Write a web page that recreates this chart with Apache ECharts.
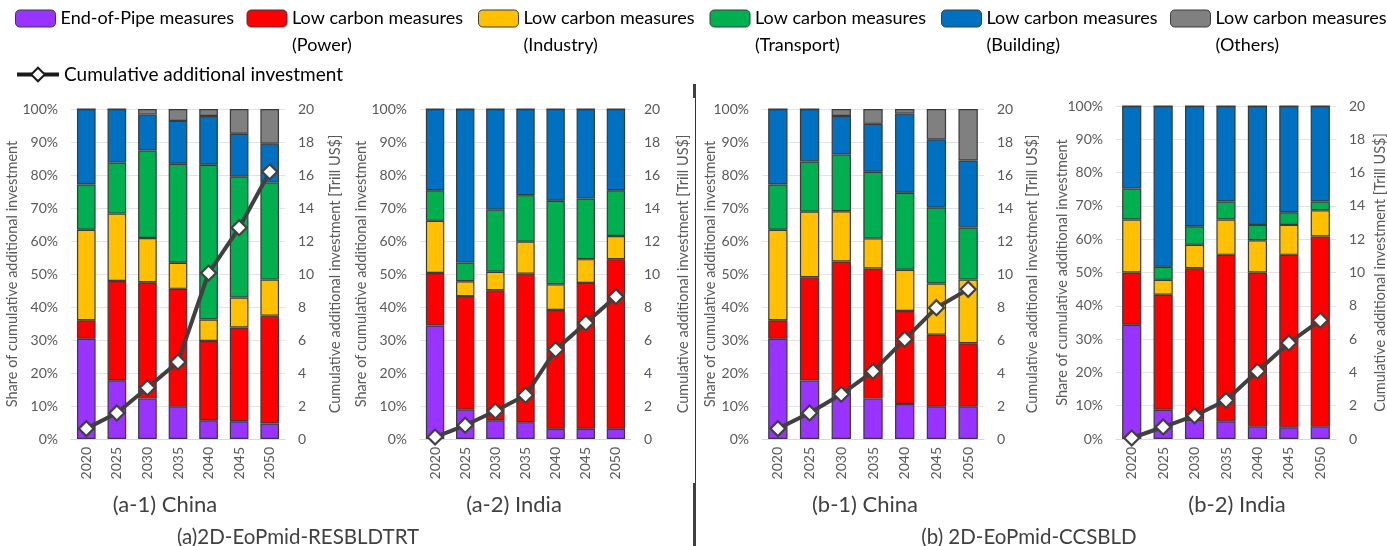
<!DOCTYPE html>
<html><head><meta charset="utf-8">
<script src="https://cdn.jsdelivr.net/npm/echarts@6/dist/echarts.min.js"></script>
<style>html,body{margin:0;padding:0;background:#fff}#c{width:1387px;height:546px}</style>
</head><body><div id="c"></div>
<script>
const years = ['2020','2025','2030','2035','2040','2045','2050'];
const barNames = ['End-of-Pipe measures','Low carbon measures (Power)','Low carbon measures (Industry)','Low carbon measures (Transport)','Low carbon measures (Building)','Low carbon measures (Others)'];
const lineName = 'Cumulative additional investment';
const leftAxisName = 'Share of cumulative additional investment';
const rightAxisName = 'Cumulative additional investment [Trill US$]';
const panelLabels = ['(a-1) China','(a-2) India','(b-1) China','(b-2) India'];
const scenarioLabels = ['(a)2D-EoPmid-RESBLDTRT','(b) 2D-EoPmid-CCSBLD'];

// (a-1) China, shares in %
const a1EoP       = [30.4,17.8,12.3, 9.9, 5.7, 5.4, 4.7];
const a1Power     = [ 5.6,30.1,35.2,35.6,24.0,28.4,32.7];
const a1Industry  = [27.4,20.4,13.4, 7.9, 6.5, 9.1,10.9];
const a1Transport = [13.7,15.5,26.5,30.0,46.9,36.6,29.4];
const a1Building  = [22.9,16.2,10.9,13.0,14.8,13.0,11.8];
const a1Others    = [ 0.0, 0.0, 1.7, 3.6, 2.1, 7.5,10.5];
const a1Cumulative = [0.63,1.58,3.11,4.67,10.06,12.8,16.2];

// (a-2) India
const a2EoP       = [34.4, 8.9, 5.7, 5.1, 3.1, 3.1, 3.1];
const a2Power     = [15.9,34.4,39.4,45.0,36.0,44.2,51.4];
const a2Industry  = [15.8, 4.5, 5.6, 9.7, 7.8, 7.2, 7.0];
const a2Transport = [ 9.3, 5.7,18.8,14.1,25.3,18.4,13.9];
const a2Building  = [24.6,46.5,30.5,26.1,27.8,27.1,24.6];
const a2Others    = [0,0,0,0,0,0,0];
const a2Cumulative = [0.12,0.83,1.70,2.65,5.41,7.03,8.63];

// (b-1) China
const b1EoP       = [30.4,17.7,14.0,12.3,10.6, 9.8, 9.8];
const b1Power     = [ 5.6,31.3,39.8,39.4,28.2,21.8,19.2];
const b1Industry  = [27.4,19.9,15.2, 9.1,12.5,15.5,19.3];
const b1Transport = [13.7,15.2,17.2,20.2,23.3,23.0,15.8];
const b1Building  = [22.9,15.9,11.7,14.5,24.0,20.7,20.3];
const b1Others    = [ 0.0, 0.0, 2.1, 4.5, 1.4, 9.2,15.6];
const b1Cumulative = [0.63,1.58,2.71,4.10,6.04,7.96,9.07];

// (b-2) India
const b2EoP       = [34.3, 8.8, 5.8, 5.3, 3.8, 3.5, 3.8];
const b2Power     = [15.7,34.5,45.5,50.0,46.2,51.8,57.0];
const b2Industry  = [15.9, 4.5, 7.0,10.6, 9.7, 9.0, 7.9];
const b2Transport = [ 9.3, 3.9, 5.6, 5.4, 4.6, 3.8, 2.6];
const b2Building  = [24.8,48.3,36.1,28.7,35.7,31.9,28.7];
const b2Others    = [0,0,0,0,0,0,0];
const b2Cumulative = [0.06,0.72,1.40,2.32,4.07,5.77,7.13];

const colors = ['#9933FF','#FF0000','#FFC000','#00B050','#0070C0','#808080'];
const FONT = 'Lato';

const panels = [
  {bars:[a1EoP,a1Power,a1Industry,a1Transport,a1Building,a1Others], line:a1Cumulative,
   grid:{left:71, top:109, width:214, height:330}, gapL:51, gapR:43, label:{x:165,y:505}},
  {bars:[a2EoP,a2Power,a2Industry,a2Transport,a2Building,a2Others], line:a2Cumulative,
   grid:{left:420, top:109, width:211, height:330}, gapL:51, gapR:45, label:{x:514,y:505}},
  {bars:[b1EoP,b1Power,b1Industry,b1Transport,b1Building,b1Others], line:b1Cumulative,
   grid:{left:762, top:109, width:222, height:330}, gapL:44, gapR:41, label:{x:865,y:505}},
  {bars:[b2EoP,b2Power,b2Industry,b2Transport,b2Building,b2Others], line:b2Cumulative,
   grid:{left:1116, top:106, width:220, height:333}, gapL:46, gapR:37, label:{x:1237,y:505}}
];

const grid = [], xAxis = [], yAxis = [], series = [];
panels.forEach((p, i) => {
  grid.push(Object.assign({outerBoundsMode:'none', containLabel:false}, p.grid));
  xAxis.push({
    type:'category', gridIndex:i, data:years,
    axisTick:{show:false},
    axisLine:{lineStyle:{color:'#d9d9d9', width:1}},
    axisLabel:{rotate:90, margin:8, color:'#595959', fontSize:14, fontFamily:FONT}
  });
  yAxis.push({
    type:'value', gridIndex:i, min:0, max:100, interval:10, position:'left',
    name:leftAxisName, nameLocation:'middle', nameGap:p.gapL, nameMoveOverlap:false,
    nameTextStyle:{color:'#595959', fontSize:14.5, fontFamily:FONT},
    axisLabel:{formatter:'{value}%', color:'#595959', fontSize:14, fontFamily:FONT, margin:13},
    splitLine:{lineStyle:{color:'#e3e3e3', width:1}},
    axisLine:{show:false}, axisTick:{show:false}
  });
  yAxis.push({
    type:'value', gridIndex:i, min:0, max:20, interval:2, position:'right',
    name:rightAxisName, nameLocation:'middle', nameGap:p.gapR, nameMoveOverlap:false,
    nameTextStyle:{color:'#595959', fontSize:14.5, fontFamily:FONT},
    axisLabel:{color:'#595959', fontSize:14, fontFamily:FONT, margin:13},
    splitLine:{show:false}, axisLine:{show:false}, axisTick:{show:false}
  });
  p.bars.forEach((vals, k) => {
    series.push({
      type:'bar', name:barNames[k], xAxisIndex:i, yAxisIndex:2*i, stack:'s'+i,
      data:vals, barWidth:'61%',
      itemStyle:{color:colors[k], borderColor:'#3a3a3a', borderWidth:1.2},
      emphasis:{disabled:true}
    });
  });
  series.push({
    type:'line', name:lineName, xAxisIndex:i, yAxisIndex:2*i+1, data:p.line, z:10,
    symbol:'diamond', symbolSize:15, showAllSymbol:true,
    lineStyle:{color:'#404040', width:4},
    itemStyle:{color:'#ffffff', borderColor:'#404040', borderWidth:2.2},
    emphasis:{disabled:true}
  });
});

const graphic = [];
panels.forEach((p, i) => {
  graphic.push({type:'text', x:p.label.x, y:p.label.y,
    style:{text:panelLabels[i], fill:'#404040', font:'22px '+FONT, textAlign:'center', textVerticalAlign:'middle'}});
});
graphic.push({type:'text', x:298, y:537,
  style:{text:scenarioLabels[0], fill:'#404040', font:'20.5px '+FONT, textAlign:'center', textVerticalAlign:'middle'}});
graphic.push({type:'text', x:1029, y:537,
  style:{text:scenarioLabels[1], fill:'#404040', font:'20.5px '+FONT, textAlign:'center', textVerticalAlign:'middle'}});
graphic.push({type:'line', shape:{x1:695.5, y1:84, x2:695.5, y2:546}, style:{stroke:'#333333', lineWidth:1}});
graphic.push({type:'rect', shape:{x:693, y:84, width:3, height:14}, style:{fill:'#404040'}});
graphic.push({type:'rect', shape:{x:693, y:483, width:3, height:63}, style:{fill:'#404040'}});

function barLegend(names, left) {
  return {
    data:names, left:left, top:-27, itemWidth:40, itemHeight:17, itemGap:11,
    padding:5,
    formatter:function(n){ return n.indexOf(' (')>0 ? ' \n' + n.replace(' (', '\n(') : ' \n' + n + '\n '; },
    textStyle:{color:'#000000', fontSize:18, fontFamily:FONT, lineHeight:27, width:175},
    itemStyle:{borderColor:'#3a3a3a', borderWidth:1}
  };
}

const chart = echarts.init(document.getElementById('c'), null, {renderer:'canvas'});
chart.setOption({
  animation:false,
  backgroundColor:'#ffffff',
  textStyle:{fontFamily:FONT},
  legend:[
    barLegend(barNames.slice(0,5), 10),
    barLegend(barNames.slice(5), 1165),
    {
      data:[lineName], left:10, top:60, itemWidth:42, itemHeight:17,
      lineStyle:{color:'#1a1a1a', width:4},
      itemStyle:{color:'#ffffff', borderColor:'#1a1a1a', borderWidth:2},
      textStyle:{color:'#000000', fontSize:19, fontFamily:FONT}
    }
  ],
  grid: grid, xAxis: xAxis, yAxis: yAxis, series: series, graphic: graphic
});
</script></body></html>
